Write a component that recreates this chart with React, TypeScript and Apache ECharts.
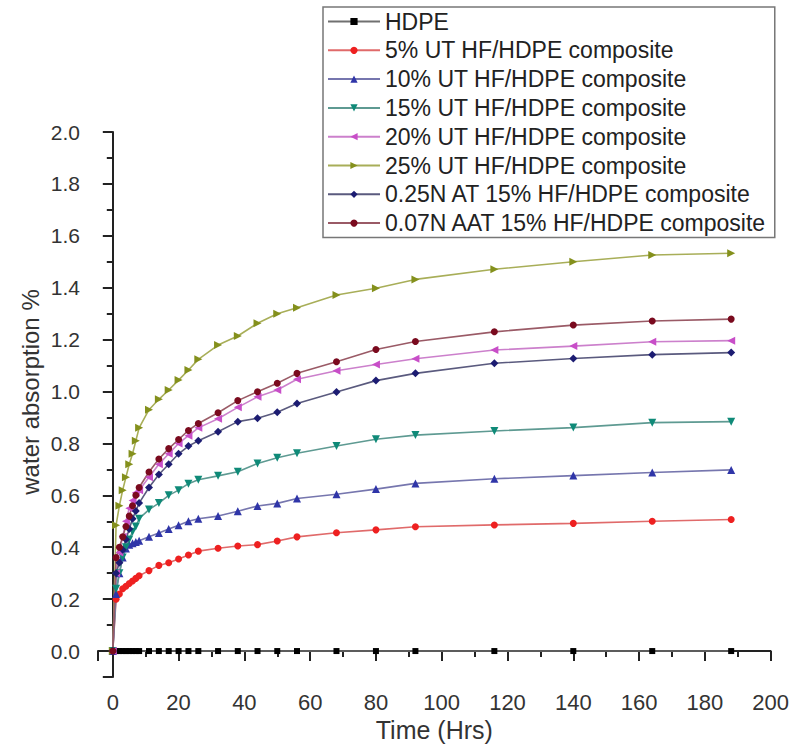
import React, { useEffect, useRef } from "react";
import * as echarts from "echarts";

const TIMES = [0, 1, 2, 3, 4, 5, 6, 7, 8, 11, 14, 17, 20, 23, 26, 32, 38, 44, 50, 56, 68, 80, 92, 116, 140, 164, 188];

const HDPE = [0, 0, 0, 0, 0, 0, 0, 0, 0, 0, 0, 0, 0, 0, 0, 0, 0, 0, 0, 0, 0, 0, 0, 0, 0, 0, 0];
const UT5 = [0, 0.2, 0.22, 0.24, 0.25, 0.26, 0.27, 0.28, 0.29, 0.31, 0.33, 0.34, 0.355, 0.37, 0.385, 0.396, 0.405, 0.41, 0.424, 0.44, 0.456, 0.467, 0.479, 0.486, 0.492, 0.5, 0.507];
const UT10 = [0, 0.22, 0.3, 0.36, 0.395, 0.41, 0.415, 0.42, 0.425, 0.44, 0.455, 0.47, 0.485, 0.5, 0.51, 0.52, 0.539, 0.559, 0.569, 0.588, 0.604, 0.624, 0.646, 0.664, 0.676, 0.688, 0.698];
const UT15 = [0, 0.24, 0.3, 0.36, 0.4, 0.43, 0.46, 0.48, 0.51, 0.545, 0.57, 0.6, 0.62, 0.645, 0.66, 0.675, 0.691, 0.723, 0.745, 0.762, 0.79, 0.816, 0.832, 0.848, 0.861, 0.88, 0.884];
const UT20 = [0, 0.3, 0.38, 0.44, 0.5, 0.55, 0.58, 0.61, 0.62, 0.67, 0.72, 0.76, 0.8, 0.83, 0.86, 0.895, 0.939, 0.98, 1.006, 1.047, 1.08, 1.104, 1.126, 1.16, 1.175, 1.192, 1.196];
const UT25 = [0, 0.485, 0.56, 0.62, 0.67, 0.72, 0.76, 0.81, 0.86, 0.93, 0.97, 1.006, 1.044, 1.083, 1.124, 1.179, 1.214, 1.263, 1.3, 1.323, 1.372, 1.398, 1.432, 1.471, 1.5, 1.526, 1.533];
const AT025N = [0, 0.3, 0.34, 0.39, 0.43, 0.47, 0.51, 0.54, 0.57, 0.63, 0.68, 0.72, 0.76, 0.79, 0.81, 0.845, 0.884, 0.897, 0.92, 0.954, 0.998, 1.042, 1.07, 1.109, 1.127, 1.142, 1.15];
const AAT007N = [0, 0.36, 0.4, 0.44, 0.48, 0.52, 0.56, 0.6, 0.63, 0.69, 0.74, 0.78, 0.815, 0.85, 0.877, 0.918, 0.965, 0.999, 1.032, 1.07, 1.115, 1.162, 1.193, 1.23, 1.256, 1.272, 1.279];

const SERIES_NAMES = [
  "HDPE",
  "5% UT HF/HDPE composite",
  "10% UT HF/HDPE composite",
  "15% UT HF/HDPE composite",
  "20% UT HF/HDPE composite",
  "25% UT HF/HDPE composite",
  "0.25N AT 15% HF/HDPE composite",
  "0.07N AAT 15% HF/HDPE composite",
];
const SERIES_VALUES = [HDPE, UT5, UT10, UT15, UT20, UT25, AT025N, AAT007N];
const MARKER_COLORS = ["#000000", "#ee2020", "#2f35a8", "#0f8a78", "#c84ec8", "#84901c", "#1c1c72", "#7a0a1e"];
const LINE_COLORS = ["#707070", "#e06a6a", "#7676ae", "#5e9a92", "#cc80cc", "#a8ae58", "#5a5a7e", "#9a5a66"];
const SYMBOLS = [
  "rect",
  "circle",
  "triangle",
  "path://M0,0L10,0L5,10Z",
  "path://M10,0L10,10L0,5Z",
  "path://M0,0L10,5L0,10Z",
  "diamond",
  "circle",
];
const SYMBOL_SIZES = [6, 7, 8, 8, 8, 8, 8, 7];

const NARROW = "'Liberation Sans Narrow', 'Arial Narrow', 'Liberation Sans', Arial, sans-serif";
const SANS = "'Liberation Sans', Arial, sans-serif";

export default function App() {
  const ref = useRef<HTMLDivElement>(null);
  useEffect(() => {
    if (!ref.current) return;
    const chart = echarts.init(ref.current, undefined, { renderer: "svg" });
    const series = SERIES_NAMES.map((name, i) => ({
      name,
      type: "line",
      data: TIMES.map((t, j) => [t, SERIES_VALUES[i][j]]),
      symbol: SYMBOLS[i],
      symbolSize: SYMBOL_SIZES[i],
      showSymbol: true,
      itemStyle: { color: MARKER_COLORS[i] },
      lineStyle: { color: LINE_COLORS[i], width: 1.6 },
      emphasis: { disabled: true },
    }));
    chart.setOption({
      animation: false,
      grid: { left: 98, right: 20.3, top: 132, bottom: 72 },
      legend: {
        data: SERIES_NAMES,
        orient: "vertical",
        left: 323,
        top: 7,
        itemWidth: 52,
        itemHeight: 9,
        itemGap: 5.8,
        padding: [3, 8, 3, 4],
        borderColor: "#777",
        borderWidth: 1.5,
        textStyle: { fontSize: 23, fontFamily: SANS, color: "#222", lineHeight: 23 },
      },
      xAxis: {
        type: "value",
        min: -4.5,
        max: 200,
        splitNumber: 10,
        minInterval: 20,
        maxInterval: 20,
        name: "Time (Hrs)",
        nameLocation: "middle",
        nameGap: 40,
        nameTextStyle: { fontSize: 25, fontFamily: NARROW, color: "#333" },
        axisLine: { lineStyle: { color: "#222", width: 2 } },
        axisTick: { length: 10, lineStyle: { color: "#222", width: 2 } },
        minorTick: { show: true, splitNumber: 2, length: 6, lineStyle: { color: "#222", width: 2 } },
        splitLine: { show: false },
        axisLabel: { showMinLabel: false, fontSize: 22, fontFamily: NARROW, color: "#333", margin: 14 },
      },
      yAxis: {
        type: "value",
        min: -0.1,
        max: 2.0,
        splitNumber: 10,
        minInterval: 0.2,
        maxInterval: 0.2,
        axisLine: { lineStyle: { color: "#222", width: 2 } },
        axisTick: { length: 10, lineStyle: { color: "#222", width: 2 } },
        minorTick: { show: true, splitNumber: 2, length: 6, lineStyle: { color: "#222", width: 2 } },
        splitLine: { show: false },
        axisLabel: {
          showMinLabel: false,
          fontSize: 21,
          fontFamily: SANS,
          color: "#333",
          margin: 18,
          formatter: (v: number) => v.toFixed(1),
        },
      },
      graphic: [
        {
          type: "text",
          x: 30,
          y: 392,
          rotation: Math.PI / 2,
          style: {
            text: "water absorption %",
            fontSize: 24,
            fontFamily: NARROW,
            fill: "#333",
            align: "center",
            verticalAlign: "middle",
          },
        },
      ],
      series,
    });
    return () => chart.dispose();
  }, []);
  return <div ref={ref} style={{ position: "absolute", left: 0, top: 0, width: 792, height: 749 }} />;
}
